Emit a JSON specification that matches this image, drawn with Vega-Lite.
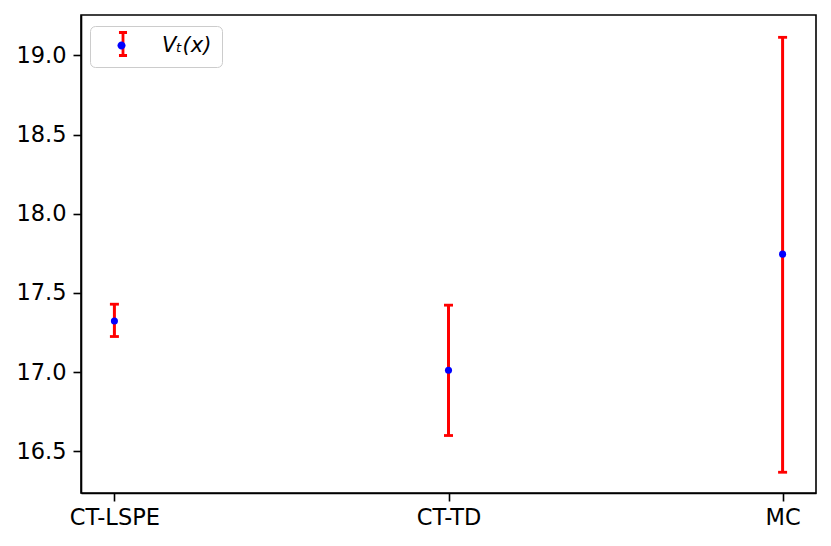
{
  "$schema": "https://vega.github.io/schema/vega-lite/v6.json",
  "width": 735,
  "height": 478,
  "autosize": {"type": "none"},
  "padding": {"left": 81, "top": 15, "right": 15, "bottom": 53},
  "background": "white",
  "config": {
    "font": "DejaVu Sans",
    "view": {"stroke": "black", "strokeWidth": 1.6},
    "axis": {
      "grid": false,
      "title": null,
      "domainColor": "black",
      "domainWidth": 1.6,
      "tickColor": "black",
      "tickWidth": 1.6,
      "tickSize": 8,
      "labelColor": "black",
      "labelFont": "DejaVu Sans",
      "labelFontSize": 22.5
    }
  },
  "data": {
    "values": [
      {"method": "CT-LSPE", "mean": 17.323, "lo": 17.225, "hi": 17.429},
      {"method": "CT-TD", "mean": 17.012, "lo": 16.6, "hi": 17.423},
      {"method": "MC", "mean": 17.745, "lo": 16.368, "hi": 19.114}
    ]
  },
  "encoding": {
    "x": {
      "field": "method",
      "type": "nominal",
      "sort": null,
      "scale": {"type": "point", "padding": 0.1},
      "axis": {"labelAngle": 0, "labelPadding": 5, "title": null}
    }
  },
  "layer": [
    {
      "mark": {"type": "rule", "strokeWidth": 3},
      "encoding": {
        "y": {
          "field": "lo",
          "type": "quantitative",
          "scale": {"domain": [16.237, 19.255], "nice": false, "zero": false},
          "axis": {"values": [16.5, 17, 17.5, 18, 18.5, 19], "format": ".1f", "labelPadding": 7, "title": null}
        },
        "y2": {"field": "hi"},
        "stroke": {
          "datum": "bar",
          "scale": {"range": ["#ff0000"]},
          "legend": {
            "orient": "none",
            "legendX": 9,
            "legendY": 11,
            "title": null,
            "padding": 5,
            "strokeColor": "#cccccc",
            "fillColor": "rgba(255,255,255,0.8)",
            "cornerRadius": 5,
            "symbolType": "M0,-1L0,1M-0.35,-1L0.35,-1M-0.35,1L0.35,1",
            "symbolSize": 529,
            "symbolStrokeWidth": 2.8,
            "symbolFillColor": "transparent",
            "symbolOffset": 15,
            "labelOffset": 81,
            "labelExpr": "''",
            "labelFontSize": 21
          }
        }
      }
    },
    {
      "mark": {"type": "tick", "color": "#ff0000", "size": 9, "thickness": 2.8, "orient": "horizontal", "opacity": 1},
      "encoding": {"y": {"field": "lo", "type": "quantitative"}}
    },
    {
      "mark": {"type": "tick", "color": "#ff0000", "size": 9, "thickness": 2.8, "orient": "horizontal", "opacity": 1},
      "encoding": {"y": {"field": "hi", "type": "quantitative"}}
    },
    {
      "mark": {"type": "point", "filled": true, "shape": "circle", "size": 50, "opacity": 1, "strokeWidth": 0},
      "encoding": {
        "y": {"field": "mean", "type": "quantitative"},
        "fill": {
          "datum": "Vₜ(x)",
          "scale": {"range": ["#0000ff"]},
          "legend": {
            "orient": "none",
            "legendX": 9,
            "legendY": 14,
            "title": null,
            "padding": 5,
            "symbolType": "M-0.35,0A0.35,0.35,0,1,0,0.35,0A0.35,0.35,0,1,0,-0.35,0Z",
            "symbolSize": 529,
            "symbolStrokeWidth": 0,
            "symbolOffset": 15,
            "labelOffset": 29,
            "labelFontSize": 21,
            "labelFontStyle": "italic",
            "labelColor": "black",
            "labelFont": "DejaVu Sans"
          }
        }
      }
    }
  ]
}
